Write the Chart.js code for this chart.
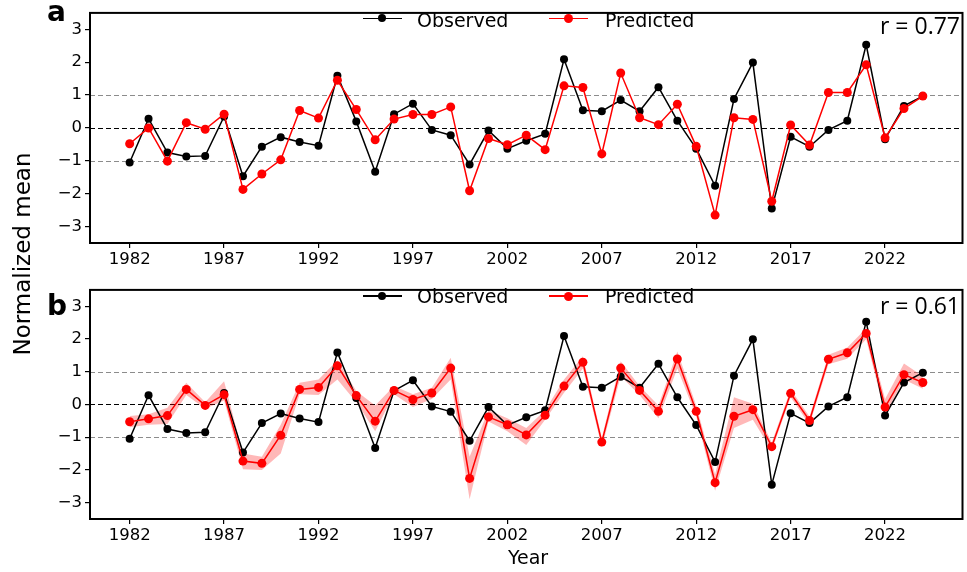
<!DOCTYPE html>
<html>
<head>
<meta charset="utf-8">
<script src="https://cdn.jsdelivr.net/npm/chart.js@4/dist/chart.umd.min.js"></script>
<style>
  body { margin: 0; background: #fff; }
  #wrap { position: relative; width: 967px; height: 572px; overflow: hidden; font-family: 'DejaVu Sans', sans-serif; color: #000; }
  canvas { position: absolute; left: 0; }
  .txt { position: absolute; white-space: nowrap; line-height: 1; }
  .panel { font-family: 'DejaVu Sans', sans-serif; font-weight: bold; font-size: 28px; }
  .rval { font-family: 'Open Sans', sans-serif; font-size: 23px; }
  .leg-line { position: absolute; height: 1.5px; }
  .leg-dot { position: absolute; border-radius: 50%; }
</style>
</head>
<body>
<div id="wrap">
  <canvas id="chartA" width="967" height="270" style="top:0px"></canvas>
  <canvas id="chartB" width="967" height="269" style="top:277px"></canvas>

  <div class="txt panel" style="left:47px; top:-2px;">a</div>
  <div class="txt panel" style="left:47px; top:292px;">b</div>

  <!-- legends -->
  <div class="leg-line" style="left:363px; top:17.5px; width:39px; background:#000;"></div>
  <div class="leg-dot" style="left:378px; top:14px; width:8px; height:8px; background:#000;"></div>
  <div class="txt" style="left:417px; top:11px; font-size:19px;">Observed</div>
  <div class="leg-line" style="left:549px; top:17.5px; width:39px; background:#f00;"></div>
  <div class="leg-dot" style="left:564px; top:14px; width:9px; height:9px; background:#f00;"></div>
  <div class="txt" style="left:605px; top:11px; font-size:19px;">Predicted</div>

  <div class="leg-line" style="left:363px; top:295px; width:39px; background:#000;"></div>
  <div class="leg-dot" style="left:378px; top:291.5px; width:8px; height:8px; background:#000;"></div>
  <div class="txt" style="left:417px; top:287px; font-size:19px;">Observed</div>
  <div class="leg-line" style="left:549px; top:295px; width:39px; background:#f00;"></div>
  <div class="leg-dot" style="left:564px; top:291.5px; width:9px; height:9px; background:#f00;"></div>
  <div class="txt" style="left:605px; top:287px; font-size:19px;">Predicted</div>

  <div class="txt rval" style="right:7px; top:13.5px;">r = 0.77</div>
  <div class="txt rval" style="right:7px; top:293.5px;">r = 0.61</div>

  <div class="txt" style="left:22px; top:254px; font-size:23px; transform: translate(-50%, -50%) rotate(-90deg);">Normalized mean</div>
  <div class="txt" style="left:528px; top:557px; font-size:19px; transform: translate(-50%, -50%);">Year</div>
</div>

<script>
// data
const years = [1982, 1983, 1984, 1985, 1986, 1987, 1988, 1989, 1990, 1991, 1992, 1993, 1994, 1995,
  1996, 1997, 1998, 1999, 2000, 2001, 2002, 2003, 2004, 2005, 2006, 2007, 2008, 2009, 2010,
  2011, 2012, 2013, 2014, 2015, 2016, 2017, 2018, 2019, 2020, 2021, 2022, 2023, 2024];

const observed = [-1.05, 0.28, -0.75, -0.87, -0.85, 0.35, -1.47, -0.57, -0.28, -0.43, -0.54, 1.59, 0.20, -1.33,
  0.42, 0.74, -0.06, -0.22, -1.11, -0.08, -0.63, -0.39, -0.18, 2.09, 0.54, 0.51, 0.85, 0.51, 1.24,
  0.22, -0.63, -1.76, 0.88, 1.99, -2.45, -0.27, -0.57, -0.06, 0.22, 2.53, -0.34, 0.67, 0.97];

const predictedA = [-0.48, 0.00, -1.01, 0.16, -0.04, 0.42, -1.87, -1.40, -0.97, 0.53, 0.30, 1.45, 0.56, -0.36,
  0.27, 0.41, 0.41, 0.64, -1.91, -0.32, -0.51, -0.22, -0.66, 1.28, 1.23, -0.79, 1.67, 0.31, 0.10,
  0.72, -0.56, -2.65, 0.31, 0.26, -2.23, 0.09, -0.52, 1.08, 1.08, 1.92, -0.30, 0.59, 0.97];

const predictedB = [-0.53, -0.44, -0.34, 0.46, -0.03, 0.30, -1.73, -1.80, -0.94, 0.46, 0.52, 1.18, 0.27, -0.51,
  0.43, 0.15, 0.35, 1.11, -2.26, -0.38, -0.62, -0.93, -0.33, 0.56, 1.29, -1.15, 1.11, 0.43, -0.21,
  1.39, -0.21, -2.39, -0.36, -0.16, -1.29, 0.34, -0.49, 1.38, 1.58, 2.17, -0.08, 0.91, 0.67];

const upperB = [-0.35, -0.30, -0.10, 0.66, 0.07, 0.71, -1.50, -1.60, -0.62, 0.66, 0.76, 1.35, 0.41, -0.03,
  0.56, 0.31, 0.51, 1.43, -1.60, -0.18, -0.42, -0.72, -0.18, 0.76, 1.47, -1.01, 1.32, 0.56, -0.03,
  1.62, -0.03, -2.14, 0.22, 0.02, -1.16, 0.46, -0.37, 1.52, 1.74, 2.33, 0.17, 1.25, 0.86];

const lowerB = [-0.70, -0.62, -0.60, 0.29, -0.13, 0.12, -1.98, -2.00, -1.50, 0.31, 0.29, 0.76, 0.07, -0.82,
  0.31, -0.08, 0.17, 0.76, -2.90, -0.52, -0.82, -1.24, -0.47, 0.36, 1.10, -1.31, 0.86, 0.29, -0.42,
  1.10, -0.37, -2.64, -0.72, -0.47, -1.41, 0.22, -0.62, 1.23, 1.40, 1.99, -0.32, 0.76, 0.48];

const xTicks = [1982, 1987, 1992, 1997, 2002, 2007, 2012, 2017, 2022];
const yTicks = [-3, -2, -1, 0, 1, 2, 3];

const pts = arr => arr.map((v, i) => ({ x: years[i], y: v }));

// frame + dashed reference lines, like the matplotlib axes
const framePlugin = {
  id: 'frame',
  beforeDatasetsDraw(chart) {
    const { ctx, chartArea: a, scales } = chart;
    ctx.save();
    ctx.lineWidth = 1.2;
    [[1, '#8c8c8c', [5, 3]], [-1, '#8c8c8c', [5, 3]], [0, '#000', [5, 3]]].forEach(([v, col, dash]) => {
      const y = Math.round(scales.y.getPixelForValue(v)) + 0.5;
      ctx.strokeStyle = col;
      ctx.setLineDash(dash);
      ctx.beginPath();
      ctx.moveTo(a.left, y);
      ctx.lineTo(a.right, y);
      ctx.stroke();
    });
    ctx.restore();
  },
  afterDatasetsDraw(chart) {
    const { ctx, chartArea: a } = chart;
    ctx.save();
    ctx.strokeStyle = '#000';
    ctx.lineWidth = 2;
    ctx.strokeRect(a.left, a.top, a.right - a.left, a.bottom - a.top);
    ctx.restore();
  }
};

function makeOptions() {
  const tickFont = { family: 'DejaVu Sans', size: 16.5 };
  return {
    responsive: false,
    animation: false,
    devicePixelRatio: 1,
    layout: { padding: { top: 5, right: 1, left: 0, bottom: 0 } },
    plugins: { legend: { display: false }, tooltip: { enabled: false } },
    scales: {
      x: {
        type: 'linear',
        min: 1979.9,
        max: 2026.1,
        afterBuildTicks: s => { s.ticks = xTicks.map(v => ({ value: v })); },
        afterFit: s => { s.height = 27; },
        border: { display: false },
        grid: { drawOnChartArea: false, drawTicks: true, tickLength: 5, color: '#000', lineWidth: 1.2 },
        ticks: { font: tickFont, color: '#000', padding: 2, maxRotation: 0, autoSkip: false, callback: v => String(v) }
      },
      y: {
        min: -3.5,
        max: 3.5,
        afterBuildTicks: s => { s.ticks = yTicks.map(v => ({ value: v })); },
        afterFit: s => { s.width = 90; },
        border: { display: false },
        grid: { drawOnChartArea: false, drawTicks: true, tickLength: 5, color: '#000', lineWidth: 1.2 },
        ticks: { font: tickFont, color: '#000', padding: 3, callback: v => (v < 0 ? '\u2212' + Math.abs(v) : String(v)) }
      }
    }
  };
}

const observedSet = {
  label: 'Observed',
  data: pts(observed),
  borderColor: '#000',
  backgroundColor: '#000',
  borderWidth: 1.5,
  pointRadius: 4,
  pointBorderWidth: 0,
  tension: 0,
  order: 1
};

function predictedSet(values) {
  return {
    label: 'Predicted',
    data: pts(values),
    borderColor: '#ff0000',
    backgroundColor: '#ff0000',
    borderWidth: 1.5,
    pointRadius: 4.5,
    pointBorderWidth: 0,
    tension: 0,
    order: 0
  };
}

// panel a
new Chart(document.getElementById('chartA'), {
  type: 'line',
  data: { datasets: [predictedSet(predictedA), observedSet] },
  options: makeOptions(),
  plugins: [framePlugin]
});

// panel b, with the uncertainty band
new Chart(document.getElementById('chartB'), {
  type: 'line',
  data: {
    datasets: [
      predictedSet(predictedB),
      Object.assign({}, observedSet, { data: pts(observed) }),
      { label: 'lower', data: pts(lowerB), borderWidth: 0, pointRadius: 0, fill: false, order: 2 },
      { label: 'upper', data: pts(upperB), borderWidth: 0, pointRadius: 0, fill: '-1', backgroundColor: 'rgba(255, 0, 0, 0.28)', order: 2 }
    ]
  },
  options: makeOptions(),
  plugins: [framePlugin]
});
</script>
</body>
</html>
